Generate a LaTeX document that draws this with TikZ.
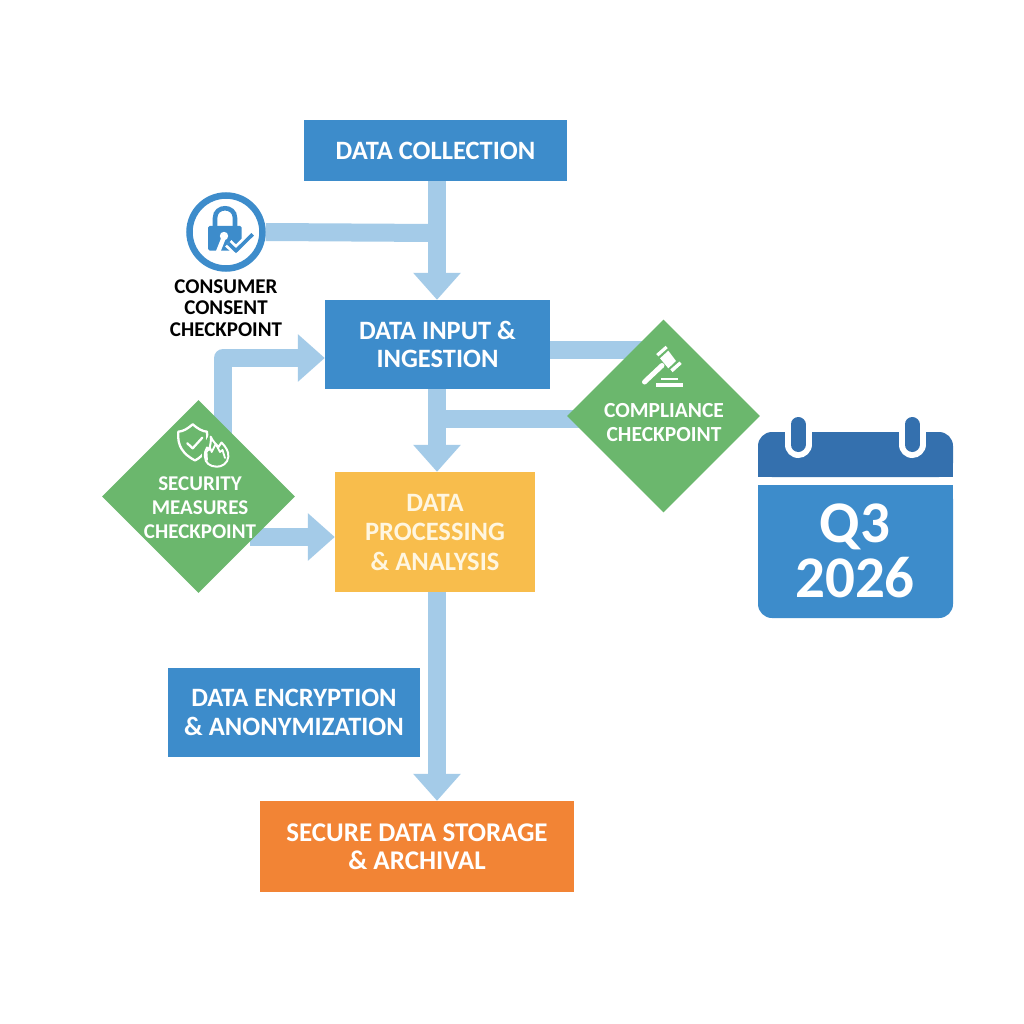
\documentclass[tikz,border=0pt]{standalone}
\usepackage{fontspec}
\setmainfont{Carlito}
\usetikzlibrary{arrows.meta,shapes.geometric,backgrounds}
\definecolor{bluebox}{HTML}{3D8CCB}
\definecolor{flowblue}{HTML}{A4CBE8}
\definecolor{greenbox}{HTML}{6BB76D}
\definecolor{yellowbox}{HTML}{F8BD4C}
\definecolor{orangebox}{HTML}{F28435}
\definecolor{calblue}{HTML}{3470AE}
\definecolor{creamtext}{HTML}{FFF6E0}
\tikzset{
  boxbase/.style={rectangle,inner sep=0pt,text=white,align=center,font=\fontsize{26.5}{28.5}\selectfont\bfseries},
  checkdia/.style={diamond,fill=greenbox,aspect=1,inner sep=0pt,minimum width=193pt,minimum height=193pt},
  diatext/.style={text=white,align=center,inner sep=0pt},
  flow/.style={draw=flowblue,line width=18pt},
  flowarrow/.style={flow,-{Triangle[length=27pt,width=46pt,color=flowblue]}},
  iconline/.style={draw=white,line width=2.3pt,line cap=round,line join=round},
}
\begin{document}
\begin{tikzpicture}[x=1pt,y=-1pt]
\useasboundingbox (0,0) rectangle (1024,1024);
% nodes
\node[boxbase,fill=bluebox,minimum width=263pt,minimum height=61pt] (collect) at (435.5,150.5) {DATA COLLECTION};
\node[boxbase,fill=bluebox,minimum width=225pt,minimum height=89pt] (input) at (437.5,344.5) {DATA INPUT \&\\INGESTION};
\node[boxbase,fill=yellowbox,text=creamtext,minimum width=200pt,minimum height=120pt,font=\fontsize{26.5}{29.5}\selectfont\bfseries] (proc) at (435,532) {DATA\\PROCESSING\\\& ANALYSIS};
\node[boxbase,fill=bluebox,minimum width=252pt,minimum height=89pt] (encrypt) at (294,712.5) {DATA ENCRYPTION\\\& ANONYMIZATION};
\node[boxbase,fill=orangebox,minimum width=314pt,minimum height=91pt,font=\fontsize{27}{28.5}\selectfont\bfseries] (store) at (417,846.5) {SECURE DATA STORAGE\\\& ARCHIVAL};
\node[circle,draw=bluebox,fill=white,line width=6.5pt,minimum size=73pt,inner sep=0pt] (lock) at (226,232) {};
\node[inner sep=0pt,align=center,font=\fontsize{21}{21.5}\selectfont\bfseries] (consent) at (226,308) {CONSUMER\\CONSENT\\CHECKPOINT};
\node[checkdia] (sec) at (198.5,496.5) {};
\node[diatext,font=\fontsize{21}{24}\selectfont\bfseries] (sectext) at (200,507.5) {SECURITY\\MEASURES\\CHECKPOINT};
\node[checkdia] (comp) at (663.5,416) {};
\node[diatext,font=\fontsize{21.5}{24}\selectfont\bfseries] (comptext) at (664,423) {COMPLIANCE\\CHECKPOINT};
% junctions
\coordinate (mainx) at (437,233);
\coordinate (compa) at (600,350);
\coordinate (compb) at (437,418.5);
\coordinate (secbend) at (223,358);
\coordinate (secproc) at (250,537);
% connectors
\begin{scope}[on background layer]
\fill[white] (0,0) rectangle (1024,1024);
\draw[flowarrow] (collect.south -| mainx) -- (input.north -| mainx);
\draw[flow] (lock.east) -- (mainx);
\draw[flowarrow] (input.south -| mainx) -- (proc.north -| mainx);
\draw[flowarrow] (proc.south -| mainx) -- (store.north -| mainx);
\draw[flow] (input.east |- compa) -- (comp.center |- compa);
\draw[flow] (compb) -- (comp.center |- compb);
\draw[flowarrow,line join=round] (sec.center -| secbend) -- (secbend) -- (input.west |- secbend);
\draw[flowarrow] (secproc) -- (proc.west |- secproc);
\end{scope}
% lock icon
\fill[bluebox,rounded corners=1.5pt] (208,226) rectangle (241.5,250.5);
\draw[bluebox,line width=4.6pt] (215,227) -- (215,218) .. controls (215,205) and (235,205) .. (235,218) -- (235,227);
\fill[white] (224,236) circle (4.2);
\draw[white,line width=4.5pt] (224,237) -- (218,252);
\draw[white,line width=9pt,line join=miter] (228.3,243.3) -- (236,250.7) -- (252.7,234.3);
\draw[bluebox,line width=3.6pt] (228.3,243.3) -- (236,250.7) -- (252.7,234.3);
% shield and flame icon
\draw[iconline] (192.7,424.3) .. controls (188,428.5) and (183,431.5) .. (178.3,431.7) .. controls (177,446) and (183,454) .. (195,460.5) .. controls (207,454) and (208,446) .. (207,431.7) .. controls (202.5,431.5) and (197.5,428.5) .. (192.7,424.3) -- cycle;
\draw[iconline] (187.3,443.3) -- (192.7,448.3) -- (202.3,437.7);
\filldraw[draw=greenbox,fill=greenbox,line width=2pt] (210.7,434) -- (231,445) -- (231,468) -- (203,468) -- (203,448) -- cycle;
\draw[iconline,line width=2pt] (210.7,436.7) .. controls (213,442) and (217,445) .. (218.5,447) .. controls (220,444) and (221,444) .. (221.5,442.5) .. controls (226,447) and (229,452) .. (228.3,456.7) .. controls (228,463) and (222,467) .. (216.7,466.7) .. controls (210,466.5) and (205,463) .. (205,457) .. controls (204.5,453) and (205.5,450) .. (207,447.5) .. controls (208,448.5) and (208.5,449.5) .. (209,450) .. controls (210,446) and (211.5,441) .. (210.7,436.7) -- cycle;
\draw[iconline,line width=1.8pt] (207,460) -- (206.5,452) -- (210,447.5) -- (211.7,452) -- (215.7,444) -- (220,452) -- (222.5,450) -- (225,458);
% gavel icon
\fill[white] (656.2,354) -- (665.6,345.8) -- (667.7,348.2) -- (658.4,356.4) -- cycle;
\fill[white] (660,358.3) -- (668.3,350.7) -- (676,361) -- (668.3,368.3) -- cycle;
\fill[white] (670.3,369.4) -- (679.5,361.5) -- (681.7,364) -- (672.6,372.2) -- cycle;
\draw[white,line width=5pt,line cap=round] (662,365.5) -- (644.5,382);
\fill[white] (660.7,377.8) rectangle (678.3,380.3);
\fill[white] (656,383.3) rectangle (682.7,386.9);
% calendar
\fill[bluebox,rounded corners=14pt] (758,485) -- (758,618) -- (953,618) -- (953,485) {[sharp corners] -- cycle};
\fill[bluebox] (758,485) rectangle (953,500);
\fill[calblue,rounded corners=14pt] (758,477) -- (758,432) -- (953,432) -- (953,477) -- cycle;
\fill[calblue] (758,462) rectangle (953,477);
\foreach \rx in {798,912}{
  \draw[white,line width=27pt,line cap=round] (\rx,424) -- (\rx,444.5);
  \draw[calblue,line width=15pt,line cap=round] (\rx,424.5) -- (\rx,444.5);
}
\node[text=white,inner sep=0pt,font=\fontsize{59}{59}\selectfont\bfseries] (q3) at (855,527) {Q3};
\node[text=white,inner sep=0pt,font=\fontsize{59}{59}\selectfont\bfseries] (year) at (855,578) {2026};
\end{tikzpicture}
\end{document}
